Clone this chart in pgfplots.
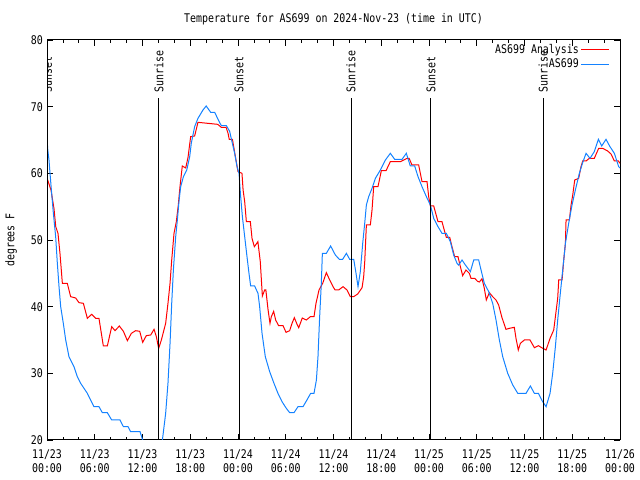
\documentclass[border=0pt]{standalone}
\usepackage{fontspec}
\setmainfont{DejaVu Sans Mono}[FakeStretch=0.83]
\usepackage{pgfplots}
\pgfplotsset{compat=1.18}
\usepackage{pgfplotstable}
\definecolor{gpred}{RGB}{255,0,0}
\definecolor{gpblue}{RGB}{20,130,255}

\pgfplotstableread{
h T
0 59.3
0.5 57.5
0.88 54.7
1.1 52
1.38 51
1.63 48
1.93 43.5
2.55 43.5
2.97 41.5
3.6 41.3
4.02 40.6
4.57 40.5
5.07 38.25
5.61 38.85
6.12 38.25
6.53 38.25
7.08 34.1
7.58 34.1
8.13 37
8.55 36.4
9.09 37.1
9.6 36.3
10.1 34.9
10.6 36
11.14 36.4
11.65 36.3
12.02 34.65
12.48 35.65
13.03 35.75
13.45 36.6
13.74 35.5
14.03 33.75
14.37 35
14.91 37.5
15.2 40.5
15.46 43.5
15.67 47
15.96 51
16.25 52.75
16.5 55.25
16.71 58
17.0 61.1
17.43 60.8
17.72 62.4
18.05 65.5
18.55 65.6
18.97 67.65
20.2 67.5
21.45 67.35
21.9 66.9
22.5 66.9
22.75 66
22.9 65.1
23.3 65.1
23.6 63
24.0 60.25
24.5 60
24.64 57.5
24.84 55.75
25.05 52.75
25.55 52.75
25.76 50.25
26.05 49
26.3 49.4
26.5 49.75
26.8 46.75
27.06 41.6
27.35 42.5
27.5 42.5
27.77 39.6
28.02 37.5
28.19 38.5
28.48 39.3
28.73 38
29.1 37.15
29.66 37.15
30.03 36.15
30.49 36.4
30.79 37.5
31.08 38.35
31.42 37.35
31.63 36.85
32.08 38.3
32.59 38
33.09 38.5
33.55 38.5
33.8 40.5
34.18 42.5
34.64 43.5
35.1 45.1
35.52 44
35.94 43
36.2 42.5
36.65 42.5
37.2 43
37.7 42.5
38.12 41.5
38.54 41.5
39.04 41.9
39.59 42.85
39.79 44.5
39.92 46.65
40.13 52.25
40.63 52.25
40.84 54.5
41.05 58
41.59 58
42.01 60.4
42.6 60.4
43.14 61.75
43.77 61.75
44.4 61.75
44.82 62
45.23 62.25
45.5 62.25
45.86 61.25
46.37 61.25
46.7 61.25
47.12 58.75
47.75 58.75
47.96 56.5
48.17 55.1
48.59 55.1
49.13 52.75
49.63 52.75
49.97 51.25
50.18 50.4
50.6 50.4
50.89 49
51.22 47.5
51.64 47.5
51.94 46
52.23 44.65
52.65 45.5
53.07 45
53.28 44.25
53.74 44.25
54.1 43.8
54.33 43.7
54.66 44.2
54.95 42.75
55.2 41
55.58 42.1
56.0 41.5
56.42 41
56.75 40.25
57.17 38.35
57.67 36.6
58.1 36.75
58.72 36.9
58.93 35.25
59.22 33.5
59.48 34.5
59.98 35
60.69 35
61.24 33.85
61.74 34.15
62.16 33.85
62.71 33.5
63.21 35.25
63.67 36.5
63.96 39.25
64.17 41.25
64.3 44
64.72 44
64.93 47
65.14 49.5
65.22 53
65.64 53
65.85 55.25
66.06 56.75
66.31 59
66.81 59.25
67.1 61
67.31 61.85
67.73 61.85
68.15 62.25
68.77 62.25
69.32 63.75
69.82 63.75
70.45 63.35
70.87 62.9
71.29 61.85
71.79 61.85
72 61.5
}\analysis

\pgfplotstableread{
h T
0 65.25
0.1 63.5
0.25 62
0.38 60
0.55 57.5
0.8 54
1.09 50.5
1.3 46.5
1.51 43
1.72 40
2.05 37.5
2.35 35
2.76 32.5
3.39 31
3.81 29.5
4.23 28.5
5.07 27
5.9 25
6.53 25
6.95 24.1
7.58 24.1
8.13 23
9.17 23
9.6 22
10.18 22
10.5 21.25
11.69 21.25
12.02 20
13 19
14.1 18.5
14.5 20
14.91 24
15.2 28.5
15.46 34.5
15.67 40.5
15.88 45.5
16.17 50.5
16.38 53
16.6 56
16.8 58
17.14 59.5
17.56 60.5
17.93 62.5
18.13 64.5
18.55 67
18.97 68.25
19.6 69.5
20.0 70.1
20.57 69.15
21.07 69.15
21.49 68.1
21.9 67.15
22.54 67.15
22.95 66.3
23.29 64.5
23.58 63
23.88 61
24.13 60
24.3 57
24.55 53.5
24.84 50.5
25.13 47.5
25.38 45
25.59 43.1
26.09 43.1
26.51 42
26.72 40
27.02 36
27.43 32.5
27.98 30.25
28.52 28.5
29.02 27
29.53 25.75
30.07 24.75
30.49 24.1
31.04 24.1
31.54 25
32.17 25
32.71 26.1
33.13 27
33.55 27
33.85 29
34.05 32.5
34.26 38.5
34.47 43.5
34.6 48
35.1 48
35.64 49.1
36.23 47.75
36.73 47.1
37.15 47.1
37.62 48
38.03 47.1
38.54 47.1
38.83 45
39.08 43
39.37 45.25
39.67 49.5
39.92 52.5
40.13 55.25
40.42 56.5
40.84 57.75
41.26 59.25
41.89 60.5
42.52 62
43.14 63
43.69 62.1
44.61 62.1
45.15 63
45.65 61.1
46.2 61.1
46.62 59.5
47.12 58
47.67 56.5
48.17 55.25
48.59 53.25
49.13 52
49.63 51
50.18 51
50.68 49.75
51.1 47.75
51.52 46.5
51.73 46.25
52.15 47
52.57 46.25
53.2 45.25
53.62 47
54.24 47
54.54 45.5
54.95 43.5
55.5 42.25
56.0 40.5
56.42 38
56.84 35
57.26 32.5
57.89 30
58.52 28.25
59.15 27
60.19 27
60.74 28.1
61.24 27
61.74 27
62.28 25.75
62.71 25
63.21 27
63.54 30
63.88 34
64.17 38
64.5 42
64.8 45.5
65.14 49.5
65.55 52.5
65.97 55.25
66.39 57.5
66.89 60
67.31 61.6
67.73 63
68.23 62.25
68.77 63.25
69.28 65.1
69.7 64.1
70.24 65.1
70.74 64
71.29 63
71.83 61
72 60.8
}\station

\begin{document}
\fontsize{12}{14}\selectfont
\begin{tikzpicture}[x=1bp,y=1bp]
\useasboundingbox (0,0) rectangle (640,480);
\begin{axis}[
  at={(47bp,40bp)}, anchor=south west,
  width=573bp, height=400bp, scale only axis,
  xmin=0, xmax=72, ymin=20, ymax=80,
  xtick={0,6,...,72}, minor xtick={0,2,...,72},
  ytick={20,30,...,80},
  xticklabels={{11/23\\00:00},{11/23\\06:00},{11/23\\12:00},{11/23\\18:00},
               {11/24\\00:00},{11/24\\06:00},{11/24\\12:00},{11/24\\18:00},
               {11/25\\00:00},{11/25\\06:00},{11/25\\12:00},{11/25\\18:00},
               {11/26\\00:00}},
  xticklabel style={align=center, font=\fontsize{12}{14.5}\selectfont, yshift=-5bp},
  yticklabel style={font=\fontsize{12}{14}\selectfont},
  /pgf/number format/assume math mode=true,
  tick align=inside, major tick length=6bp, minor tick length=3bp,
  tick style={black, line width=0.8bp},
  axis line style={line width=1bp},
  legend plot pos=right,
  legend cell align=right,
  legend style={draw=none, fill=none, at={(1,1)}, anchor=north east,
    xshift=-7bp, yshift=0bp, row sep=0bp,
    font=\fontsize{12}{14}\selectfont},
  legend image code/.code={\draw[#1] (0bp,0bp) -- (28bp,0bp);},
]
\addplot[gpred, line width=1bp] table[x=h, y=T] {\analysis};
\addlegendentry{AS699 Analysis}
\addplot[gpblue, line width=1bp] table[x=h, y=T] {\station};
\addlegendentry{AS699}
\addplot[black, line width=1bp, forget plot] coordinates {(0.06,20) (0.06,71.3)};
\addplot[black, line width=1bp, forget plot] coordinates {(14.07,20) (14.07,71.3)};
\addplot[black, line width=1bp, forget plot] coordinates {(24.13,20) (24.13,71.3)};
\addplot[black, line width=1bp, forget plot] coordinates {(38.2,20) (38.2,71.3)};
\addplot[black, line width=1bp, forget plot] coordinates {(48.25,20) (48.25,71.3)};
\addplot[black, line width=1bp, forget plot] coordinates {(62.33,20) (62.33,71.3)};
\node[rotate=90, anchor=west, inner sep=0pt] at (axis cs:0.06,72.1) {Sunset};
\node[rotate=90, anchor=west, inner sep=0pt] at (axis cs:14.07,72.1) {Sunrise};
\node[rotate=90, anchor=west, inner sep=0pt] at (axis cs:24.13,72.1) {Sunset};
\node[rotate=90, anchor=west, inner sep=0pt] at (axis cs:38.2,72.1) {Sunrise};
\node[rotate=90, anchor=west, inner sep=0pt] at (axis cs:48.25,72.1) {Sunset};
\node[rotate=90, anchor=west, inner sep=0pt] at (axis cs:62.33,72.1) {Sunrise};
\end{axis}
\node at (333.5,461) {Temperature for AS699 on 2024-Nov-23 (time in UTC)};
\node[rotate=90] at (11,240) {degrees F};
\end{tikzpicture}
\end{document}
